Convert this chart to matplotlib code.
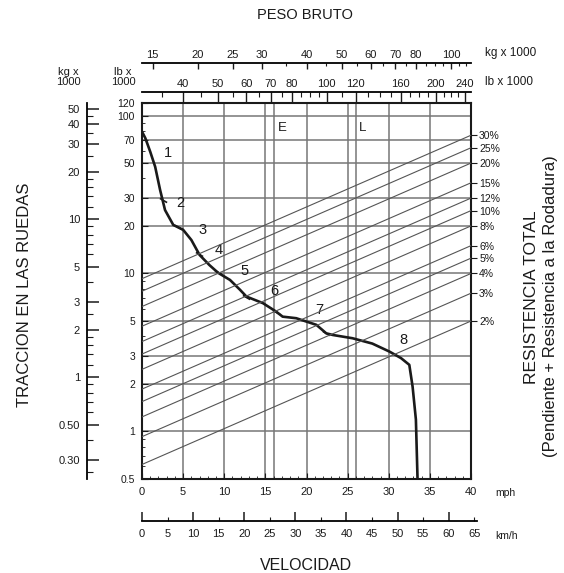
import numpy as np
import matplotlib.pyplot as plt
from matplotlib.ticker import FixedLocator, FixedFormatter, NullLocator

plt.rcParams['font.family'] = ['Liberation Sans', 'DejaVu Sans']

#(0) Data
# rimpull curve: speed (mph) vs rimpull (lb x 1000)
speed_mph  = [0.0, 0.4, 1.0, 1.6, 2.2, 2.8, 3.8, 5.0, 6.0, 7.0, 8.2, 9.25, 10.7,
              11.9, 12.7, 14.7, 16.3, 17.1, 18.75, 21.2, 22.4, 23.2, 25.6, 28.0,
              30.1, 31.5, 32.5, 32.9, 33.3, 33.5]
rimpull_lb = [79, 72, 59, 47.4, 33.8, 25.2, 20.3, 18.9, 16.3, 13.1, 11.3, 10.1, 9.1,
              7.9, 7.14, 6.49, 5.74, 5.33, 5.21, 4.73, 4.18, 4.08, 3.89, 3.60,
              3.20, 2.91, 2.64, 1.92, 1.19, 0.5]
# gear shift marks
shift_mph = [2.5, 4.4, 6.9, 9.2, 12.7, 16.3, 22.4]
shift_lb  = [29, 19.8, 13.3, 10.2, 7.1, 5.7, 4.2]
# gear labels
gears     = ['1', '2', '3', '4', '5', '6', '7', '8']
gear_mph  = [3.15, 4.7, 7.4, 9.3, 12.5, 16.1, 21.6, 31.8]
gear_lb   = [57.9, 28.0, 18.9, 14.1, 10.3, 7.7, 5.9, 3.8]
# total resistance lines (%)
grades    = [30, 25, 20, 15, 12, 10, 8, 6, 5, 4, 3, 2]
# gross weight scale (lb x 1000)
W_MIN, W_MAX = 30.9, 250.0
KG = 0.45359
lb_major  = [40, 50, 60, 70, 80, 100, 120, 160, 200, 240]
lb_minor  = [35, 45, 55, 65, 75, 85, 90, 95, 110, 130, 140, 150, 170, 180, 190, 210, 220, 230]
kg_major  = [15, 20, 25, 30, 40, 50, 60, 70, 80, 100]
kg_minor  = [35, 45, 55, 65, 75, 85, 90, 95, 105, 110]
# rimpull scales
rim_lb_ticks = [0.5, 1, 2, 3, 5, 10, 20, 30, 50, 70, 100, 120]
rim_kg_major = [0.30, 0.50, 1, 2, 3, 5, 10, 20, 30, 40, 50]
rim_kg_minor = [0.25, 0.4, 0.6, 0.7, 0.8, 0.9, 1.2, 1.4, 1.6, 1.8, 2.5, 4,
                6, 7, 8, 9, 12, 14, 16, 18, 25, 35, 45]
rim_grid  = [1, 2, 3, 5, 10, 20, 30, 50, 70, 100]
speed_grid = [5, 10, 15, 16, 20, 25, 26, 30, 35]
kmh_major = [0, 10, 20, 30, 40, 50, 60]
kmh_minor = [5, 15, 25, 35, 45, 55, 65]

GRID = '#767676'
INK = '#1a1a1a'
FW, FH = 564, 573
PT = 0.72  # points per pixel at dpi 100


def box(l, t, r, b):
    return [l / FW, 1 - b / FH, (r - l) / FW, (b - t) / FH]


#(1) Main axes
fig = plt.figure(figsize=(5.64, 5.73), dpi=100)
ax = fig.add_axes(box(142, 103, 471, 479))
ax.set_yscale('log')
ax.set_xlim(0, 40)
ax.set_ylim(0.5, 120)
for s in ax.spines.values():
    s.set_linewidth(1.5)
    s.set_color(INK)

for v in rim_grid:
    ax.axhline(v, color=GRID, lw=1.1, zorder=1)
for v in speed_grid:
    ax.axvline(v, color=GRID, lw=1.1, zorder=1)

ax.plot(speed_mph, rimpull_lb, color=INK, lw=1.9, zorder=5)
ax.plot(shift_mph, shift_lb, ls='none', marker=(2, 0, 60), ms=6,
        mec=INK, mew=1.2, zorder=5)
for g, x, y in zip(gears, gear_mph, gear_lb):
    ax.text(x, y, g, fontsize=10.5, ha='center', va='center', color=INK, zorder=6)
ax.text(17.1, 83, 'E', fontsize=9.5, ha='center', va='center', color=INK)
ax.text(26.8, 83, 'L', fontsize=9.5, ha='center', va='center', color=INK)

ax.xaxis.set_major_locator(FixedLocator(list(range(0, 41, 5))))
ax.xaxis.set_minor_locator(FixedLocator(list(range(0, 41))))
ax.yaxis.set_major_locator(FixedLocator(rim_lb_ticks))
ax.yaxis.set_major_formatter(FixedFormatter([f'{v:g}' for v in rim_lb_ticks]))
ax.tick_params(axis='x', which='major', direction='in', length=4, pad=6,
               labelsize=8, top=False, colors=INK)
ax.tick_params(axis='x', which='minor', direction='in', length=2, top=False, colors=INK)
ax.tick_params(axis='y', which='major', direction='in', length=4, pad=5,
               labelsize=7.5, right=False, colors=INK)
ax.tick_params(axis='y', which='minor', direction='in', length=2, right=False, colors=INK)

#(2) Gross weight scale (lb) + resistance lines
ax_w = ax.twiny()
ax_w.set_xscale('log')
ax_w.set_xlim(W_MIN, W_MAX)
for p in grades:
    ax_w.plot([W_MIN, W_MAX], [W_MIN * p / 100, W_MAX * p / 100],
              color='#555555', lw=0.8, zorder=2)
for k in ['left', 'right', 'bottom']:
    ax_w.spines[k].set_visible(False)
ax_w.spines['top'].set_position(('outward', 11 * PT))
ax_w.spines['top'].set_linewidth(1.3)
ax_w.xaxis.set_major_locator(FixedLocator(lb_major))
ax_w.xaxis.set_major_formatter(FixedFormatter([str(v) for v in lb_major]))
ax_w.xaxis.set_minor_locator(FixedLocator(lb_minor))
ax_w.xaxis.set_minor_formatter(FixedFormatter([''] * len(lb_minor)))
ax_w.tick_params(axis='x', which='major', direction='in', length=10 * PT,
                 width=1.0, pad=2, labelsize=8, colors=INK)
ax_w.tick_params(axis='x', which='minor', direction='in', length=5 * PT,
                 width=0.8, colors=INK)

# kg scale
ax_k = ax.twiny()
ax_k.set_xscale('log')
ax_k.set_xlim(W_MIN * KG, W_MAX * KG)
for k in ['left', 'right', 'bottom']:
    ax_k.spines[k].set_visible(False)
ax_k.spines['top'].set_position(('outward', 40 * PT))
ax_k.spines['top'].set_linewidth(1.3)
ax_k.xaxis.set_major_locator(FixedLocator(kg_major))
ax_k.xaxis.set_major_formatter(FixedFormatter([str(v) for v in kg_major]))
ax_k.xaxis.set_minor_locator(FixedLocator(kg_minor))
ax_k.xaxis.set_minor_formatter(FixedFormatter([''] * len(kg_minor)))
ax_k.tick_params(axis='x', which='major', direction='in', length=6 * PT,
                 width=1.0, pad=2, labelsize=8, colors=INK)
ax_k.tick_params(axis='x', which='minor', direction='in', length=3 * PT,
                 width=0.8, colors=INK)

#(3) Right: resistance labels
ax_r = ax.twinx()
ax_r.set_yscale('log')
ax_r.set_ylim(0.5, 120)
for k in ['left', 'top', 'bottom', 'right']:
    ax_r.spines[k].set_visible(False)
ax_r.yaxis.set_major_locator(FixedLocator([W_MAX * p / 100 for p in grades]))
ax_r.yaxis.set_major_formatter(FixedFormatter([f'{p}%' for p in grades]))
ax_r.yaxis.set_minor_locator(NullLocator())
ax_r.tick_params(axis='y', direction='out', length=6 * PT, pad=1.5,
                 labelsize=7.5, colors=INK)

#(4) Left: rimpull in kg x 1000
ax_l = ax.twinx()
ax_l.set_yscale('log')
ax_l.set_ylim(0.5 * KG, 120 * KG)
for k in ['right', 'top', 'bottom']:
    ax_l.spines[k].set_visible(False)
ax_l.spines['left'].set_visible(True)
ax_l.spines['left'].set_position(('outward', 55 * PT))
ax_l.spines['left'].set_linewidth(1.3)
ax_l.yaxis.tick_left()
ax_l.yaxis.set_major_locator(FixedLocator(rim_kg_major))
ax_l.yaxis.set_major_formatter(FixedFormatter(
    ['0.30', '0.50', '1', '2', '3', '5', '10', '20', '30', '40', '50']))
ax_l.yaxis.set_minor_locator(FixedLocator(rim_kg_minor))
ax_l.yaxis.set_minor_formatter(FixedFormatter([''] * len(rim_kg_minor)))
ax_l.tick_params(axis='y', which='major', direction='in', length=12 * PT,
                 width=1.1, pad=5, labelsize=8, colors=INK)
ax_l.tick_params(axis='y', which='minor', direction='in', length=6 * PT,
                 width=0.8, colors=INK)

#(5) Bottom: km/h scale
kmh_per_px = 40 * 1.609344 / 329
ax_km = fig.add_axes(box(142, 500, 142 + 65.5 / kmh_per_px, 521))
ax_km.set_xlim(0, 65.5)
ax_km.patch.set_visible(False)
ax_km.set_yticks([])
for k in ['left', 'right', 'top']:
    ax_km.spines[k].set_visible(False)
ax_km.spines['bottom'].set_linewidth(1.3)
ax_km.xaxis.set_major_locator(FixedLocator(kmh_major))
ax_km.xaxis.set_major_formatter(FixedFormatter([str(v) for v in kmh_major]))
ax_km.xaxis.set_minor_locator(FixedLocator(kmh_minor))
ax_km.xaxis.set_minor_formatter(FixedFormatter([str(v) for v in kmh_minor]))
ax_km.tick_params(axis='x', which='major', direction='in', length=9 * PT,
                  width=1.1, pad=6, labelsize=8, colors=INK)
ax_km.tick_params(axis='x', which='minor', direction='in', length=4 * PT,
                  width=0.8, pad=6, labelsize=8, colors=INK)

#(6) Titles and unit labels
def ftxt(x, y, s, **kw):
    fig.text(x / FW, 1 - y / FH, s, color=INK, **kw)

ftxt(305, 15, 'PESO BRUTO', fontsize=10.5, ha='center', va='center')
ftxt(306, 565, 'VELOCIDAD', fontsize=11.5, ha='center', va='center')
ftxt(25, 295, 'TRACCION EN LAS RUEDAS', fontsize=12, rotation=90,
     ha='center', va='center')
ftxt(532, 297, 'RESISTENCIA TOTAL', fontsize=12.5, rotation=90,
     ha='center', va='center')
ftxt(550, 306, '(Pendiente + Resistencia a la Rodadura)', fontsize=12,
     rotation=90, ha='center', va='center')
ftxt(485, 53, 'kg x 1000', fontsize=8.5, ha='left', va='center')
ftxt(485, 82, 'lb x 1000', fontsize=8.5, ha='left', va='center')
ftxt(68, 77, 'kg x\n1000', fontsize=8, ha='center', va='center', linespacing=1.0)
ftxt(123, 77, 'lb x\n1000', fontsize=8, ha='center', va='center', linespacing=1.0)
ftxt(495, 493, 'mph', fontsize=7.5, ha='left', va='center')
ftxt(495, 536, 'km/h', fontsize=7.5, ha='left', va='center')

fig.savefig('out.png', dpi=100)
